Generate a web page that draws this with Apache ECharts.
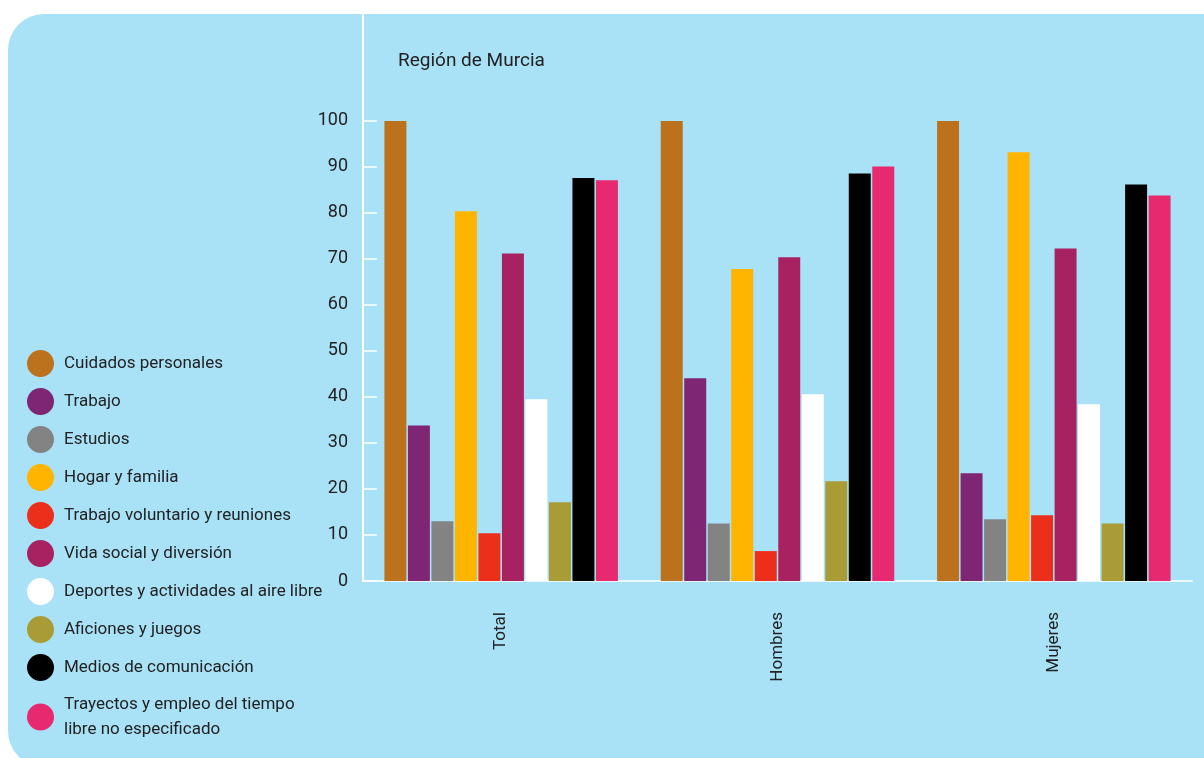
<!DOCTYPE html>
<html>
<head>
<meta charset="utf-8">
<script src="https://cdn.jsdelivr.net/npm/echarts@6/dist/echarts.min.js"></script>
<style>
  html, body { margin: 0; padding: 0; background: #fff; }
  #chart { width: 1204px; height: 758px; }
</style>
</head>
<body>
<div id="chart"></div>
<script>
const categories = ['Total', 'Hombres', 'Mujeres'];

const activities = [
  'Cuidados personales',
  'Trabajo',
  'Estudios',
  'Hogar y familia',
  'Trabajo voluntario y reuniones',
  'Vida social y diversión',
  'Deportes y actividades al aire libre',
  'Aficiones y juegos',
  'Medios de comunicación',
  'Trayectos y empleo del tiempo libre no especificado'
];

const colors = ['#bc721c', '#7e2573', '#838383', '#ffb400', '#ec2f1a',
  '#a82262', '#ffffff', '#a99b36', '#000000', '#e7296f'];

// % of people doing each activity: [Total, Hombres, Mujeres]
const cuidados = [100, 100, 100];
const trabajo = [33.8, 44.1, 23.4];
const estudios = [13.0, 12.5, 13.4];
const hogar = [80.4, 67.8, 93.2];
const voluntario = [10.4, 6.5, 14.3];
const vidaSocial = [71.2, 70.4, 72.3];
const deportes = [39.5, 40.6, 38.4];
const aficiones = [17.1, 21.7, 12.5];
const medios = [87.6, 88.6, 86.2];
const trayectos = [87.1, 90.1, 83.8];

const seriesValues = [cuidados, trabajo, estudios, hogar, voluntario,
  vidaSocial, deportes, aficiones, medios, trayectos];

const yTicks = [0, 10, 20, 30, 40, 50, 60, 70, 80, 90, 100];

const chart = echarts.init(document.getElementById('chart'));

const textColor = '#222';
const font = 'Roboto';

chart.setOption({
  animation: false,
  graphic: [{
    type: 'rect',
    z: -10,
    shape: { x: 8, y: 14, width: 1250, height: 753, r: [36, 0, 0, 36] },
    style: { fill: '#a9e2f7' }
  }],
  title: {
    text: 'Región de Murcia',
    left: 398,
    top: 52,
    padding: 0,
    textStyle: { color: textColor, fontSize: 19, fontWeight: 'normal', fontFamily: font }
  },
  legend: {
    orient: 'vertical',
    left: 27,
    top: 350,
    height: 408,
    padding: 0,
    icon: 'circle',
    itemWidth: 27,
    itemHeight: 27,
    itemGap: 11,
    data: activities,
    formatter: (name) => name === activities[9]
      ? 'Trayectos y empleo del tiempo\nlibre no especificado' : name,
    textStyle: {
      color: textColor, fontSize: 17, fontFamily: font,
      lineHeight: 25, padding: [0, 0, 0, 5]
    }
  },
  grid: { left: 363, right: 12, top: 14, bottom: 177 },
  xAxis: {
    type: 'category',
    data: categories,
    axisLine: { lineStyle: { color: 'rgba(255,255,255,0.75)', width: 2 } },
    axisTick: { inside: true, length: 12, lineStyle: { color: 'rgba(255,255,255,0.8)', width: 2 } },
    axisLabel: { rotate: 90, margin: 31, fontSize: 17, color: textColor, fontFamily: font }
  },
  yAxis: {
    type: 'value',
    min: 0,
    max: 123.26,
    splitLine: { show: false },
    axisLine: { show: true, lineStyle: { color: '#fff', width: 2 } },
    axisTick: {
      show: true, inside: true, length: 14, customValues: yTicks,
      lineStyle: { color: 'rgba(255,255,255,0.75)', width: 2 }
    },
    axisLabel: {
      customValues: yTicks, margin: 15, fontSize: 18, color: textColor,
      fontFamily: font, padding: [0, 0, 10, 0]
    }
  },
  series: activities.map((name, i) => ({
    name,
    type: 'bar',
    data: seriesValues[i],
    barGap: '7%',
    barCategoryGap: '15.5%',
    itemStyle: { color: colors[i] }
  }))
});
</script>
</body>
</html>
